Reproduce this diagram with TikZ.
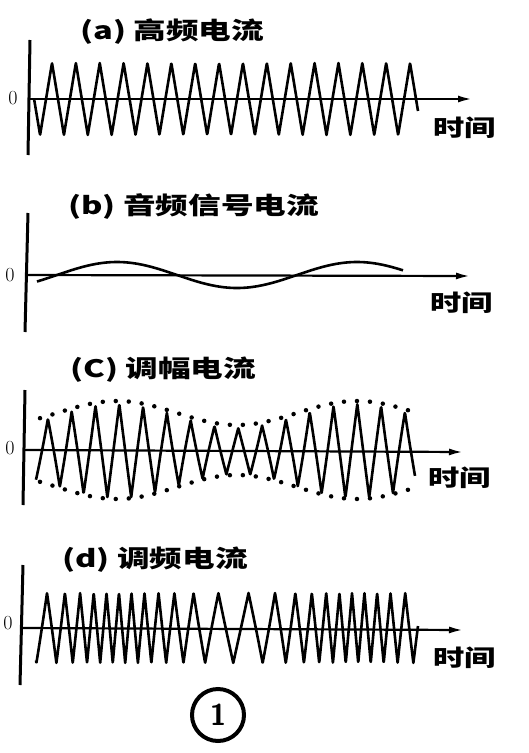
\documentclass[tikz,border=0pt]{standalone}
\usepackage{fontspec}
\usepackage{tikz}
\usetikzlibrary{arrows.meta}
\newfontfamily\cjk[FakeStretch=1.36]{Noto Sans CJK SC}
\tikzset{
  declare function={tri(\u)=4*abs(\u-floor(\u)-0.5)-1;},
  yaxis/.style={line width=3pt},
  taxis/.style={line width=2.2pt, -{Latex[length=14pt, width=7pt]}},
  wave/.style={line width=2.6pt, line join=round},
  envl/.style={line width=4.5pt, line cap=round, dash pattern=on 0pt off 13pt},
  ttl/.style={anchor=west, inner sep=0pt, font=\cjk\bfseries\fontsize{24}{24}\selectfont},
  tlbl/.style={anchor=west, inner sep=0pt, font=\cjk\bfseries\fontsize{23}{23}\selectfont},
  zlbl/.style={inner sep=0pt, font=\fontsize{20}{20}\selectfont}
}
\begin{document}
\begin{tikzpicture}[x=1pt, y=-1pt]
\useasboundingbox (0,0) rectangle (528,753);
% (a) carrier
\node[ttl] (lblA) at (80,32) {(a) 高频电流};
\draw[yaxis] (30,40) -- (28,155);
\draw[taxis] (29,99) -- (472,99);
\node[zlbl] (zeroA) at (13,98) {0};
\node[tlbl] (timeA) at (433,128) {时间};
\draw[wave] plot[domain=34:418, samples=1000] (\x, {99 - 36*tri((\x-52)/23.87)});
% (b) audio signal
\node[ttl] (lblB) at (68,207) {(b) 音频信号电流};
\draw[yaxis] (28,213) -- (25,332);
\draw[taxis] (27,275) -- (470,276);
\node[zlbl] (zeroB) at (10,275) {0};
\node[tlbl] (timeB) at (430,303) {时间};
\draw[wave] plot[domain=37:403, samples=150, smooth] (\x, {275 - 13*sin(1.5*(\x-57))});
% (c) amplitude modulated
\node[ttl] (lblC) at (70,370) {(C) 调幅电流};
\draw[yaxis] (25,390) -- (23,505);
\draw[taxis] (25,450) -- (463,452);
\node[zlbl] (zeroC) at (10,448) {0};
\node[tlbl] (timeC) at (428,478) {时间};
\draw[envl] plot[domain=40:420, samples=120, smooth] (\x, {449 - 36 - 12*sin(1.5*(\x-57))});
\draw[envl] plot[domain=40:416, samples=120, smooth] (\x, {451 + 36 + 12*sin(1.5*(\x-57))});
\draw[wave] plot[domain=36:415, samples=1000] (\x, {451 - (35 + 12*sin(1.5*(\x-57)))*tri((\x-47.9)/23.8)});
% (d) frequency modulated
\node[ttl] (lblD) at (62,560) {(d) 调频电流};
\draw[yaxis] (23,565) -- (20,685);
\draw[taxis] (22,628) -- (463,630);
\node[zlbl] (zeroD) at (8,623) {0};
\node[tlbl] (timeD) at (433,658) {时间};
\draw[wave] plot[domain=36:418, samples=1500] (\x, {628 - 35*tri(0.0565*(\x-47) + 0.917*(0.966 - cos(1.5*(\x-57))))});
% figure number
\node[draw, circle, line width=4pt, minimum size=52pt, inner sep=0pt, font=\sffamily\bfseries\fontsize{30}{30}\selectfont] (fignum) at (218,715) {1};
\end{tikzpicture}
\end{document}
